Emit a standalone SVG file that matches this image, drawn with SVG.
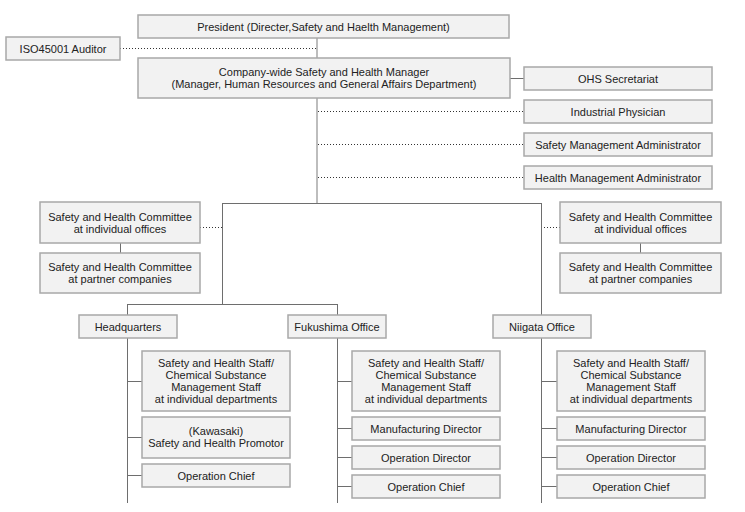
<svg xmlns="http://www.w3.org/2000/svg" width="745" height="512" viewBox="0 0 745 512">
<style>
.b{fill:#f2f2f2;stroke:#a8a8a8;stroke-width:1.5}
.t{font-family:"Liberation Sans",Arial,sans-serif;font-size:11px;fill:#222;text-anchor:middle}
.s{stroke:#6e6e6e;stroke-width:1;fill:none}
.tr{stroke:#bdbdbd;stroke-width:2;fill:none}
.d{stroke:#333;stroke-width:1;stroke-dasharray:1 2;fill:none}
</style>
<rect width="745" height="512" fill="#fff"/>
<g id="connectors">
<path class="tr" d="M317 38V58M317 98V203"/>
<path class="d" d="M120 48.5H316M318 111.5H524M318 144.5H524M318 177.5H524M200 227.5H222M541 227.5H560"/>
<path class="s" d="M510 78.5H524M222 203.5H541.5M222.5 203V304M541.5 203V315M127 304.5H337.5M127.5 304V315M337.5 304V315M120.5 243V253M640.5 243V253"/>
<path class="s" d="M127.5 338V503M127 381.5H142M127 437.5H142M127 475.5H142"/>
<path class="s" d="M337.5 338V503M337 381.5H352M337 428.5H352M337 457.5H352M337 486.5H352"/>
<path class="s" d="M541.5 338V503M541 381.5H557M541 428.5H557M541 457.5H557M541 486.5H557"/>
</g>
<g id="president"><rect class="b" x="138" y="15" width="371" height="23"/><text class="t" x="323.5" y="30.5">President (Directer,Safety and Haelth Management)</text></g>
<g id="auditor"><rect class="b" x="6" y="37" width="114" height="23"/><text class="t" x="63" y="52.5">ISO45001 Auditor</text></g>
<g id="company"><rect class="b" x="138" y="58" width="372" height="40"/><text class="t" x="324" y="76">Company-wide Safety and Health Manager</text><text class="t" x="324" y="88">(Manager, Human Resources and General Affairs Department)</text></g>
<g id="ohs"><rect class="b" x="524" y="67" width="188" height="23"/><text class="t" x="618" y="82.5">OHS Secretariat</text></g>
<g id="physician"><rect class="b" x="524" y="100" width="188" height="23"/><text class="t" x="618" y="115.5">Industrial Physician</text></g>
<g id="safety-admin"><rect class="b" x="524" y="133" width="188" height="23"/><text class="t" x="618" y="148.5">Safety Management Administrator</text></g>
<g id="health-admin"><rect class="b" x="524" y="166" width="188" height="23"/><text class="t" x="618" y="181.5">Health Management Administrator</text></g>
<g id="committee-left-1"><rect class="b" x="40" y="202" width="160" height="41"/><text class="t" x="120" y="221">Safety and Health Committee</text><text class="t" x="120" y="233">at individual offices</text></g>
<g id="committee-left-2"><rect class="b" x="40" y="253" width="160" height="40"/><text class="t" x="120" y="271">Safety and Health Committee</text><text class="t" x="120" y="283">at partner companies</text></g>
<g id="committee-right-1"><rect class="b" x="560" y="202" width="161" height="41"/><text class="t" x="640.5" y="221">Safety and Health Committee</text><text class="t" x="640.5" y="233">at individual offices</text></g>
<g id="committee-right-2"><rect class="b" x="560" y="253" width="161" height="40"/><text class="t" x="640.5" y="271">Safety and Health Committee</text><text class="t" x="640.5" y="283">at partner companies</text></g>
<g id="hq"><rect class="b" x="79" y="315" width="98" height="23"/><text class="t" x="128" y="330.5">Headquarters</text></g>
<g id="fukushima"><rect class="b" x="288" y="315" width="98" height="23"/><text class="t" x="337" y="330.5">Fukushima Office</text></g>
<g id="niigata"><rect class="b" x="493" y="315" width="98" height="23"/><text class="t" x="542" y="330.5">Niigata Office</text></g>
<g id="hq-staff"><rect class="b" x="142" y="351" width="148" height="60"/><text class="t" x="216" y="367">Safety and Health Staff/</text><text class="t" x="216" y="379">Chemical Substance</text><text class="t" x="216" y="391">Management Staff</text><text class="t" x="216" y="403">at individual departments</text></g>
<g id="hq-promotor"><rect class="b" x="142" y="417" width="148" height="41"/><text class="t" x="216" y="435">(Kawasaki)</text><text class="t" x="216" y="447">Safety and Health Promotor</text></g>
<g id="hq-chief"><rect class="b" x="142" y="464" width="148" height="23"/><text class="t" x="216" y="479.5">Operation Chief</text></g>
<g id="fk-staff"><rect class="b" x="352" y="351" width="148" height="60"/><text class="t" x="426" y="367">Safety and Health Staff/</text><text class="t" x="426" y="379">Chemical Substance</text><text class="t" x="426" y="391">Management Staff</text><text class="t" x="426" y="403">at individual departments</text></g>
<g id="fk-mfg"><rect class="b" x="352" y="417" width="148" height="23"/><text class="t" x="426" y="432.5">Manufacturing Director</text></g>
<g id="fk-op"><rect class="b" x="352" y="446" width="148" height="23"/><text class="t" x="426" y="461.5">Operation Director</text></g>
<g id="fk-chief"><rect class="b" x="352" y="475" width="148" height="23"/><text class="t" x="426" y="490.5">Operation Chief</text></g>
<g id="ng-staff"><rect class="b" x="557" y="351" width="148" height="60"/><text class="t" x="631" y="367">Safety and Health Staff/</text><text class="t" x="631" y="379">Chemical Substance</text><text class="t" x="631" y="391">Management Staff</text><text class="t" x="631" y="403">at individual departments</text></g>
<g id="ng-mfg"><rect class="b" x="557" y="417" width="148" height="23"/><text class="t" x="631" y="432.5">Manufacturing Director</text></g>
<g id="ng-op"><rect class="b" x="557" y="446" width="148" height="23"/><text class="t" x="631" y="461.5">Operation Director</text></g>
<g id="ng-chief"><rect class="b" x="557" y="475" width="148" height="23"/><text class="t" x="631" y="490.5">Operation Chief</text></g>
</svg>
